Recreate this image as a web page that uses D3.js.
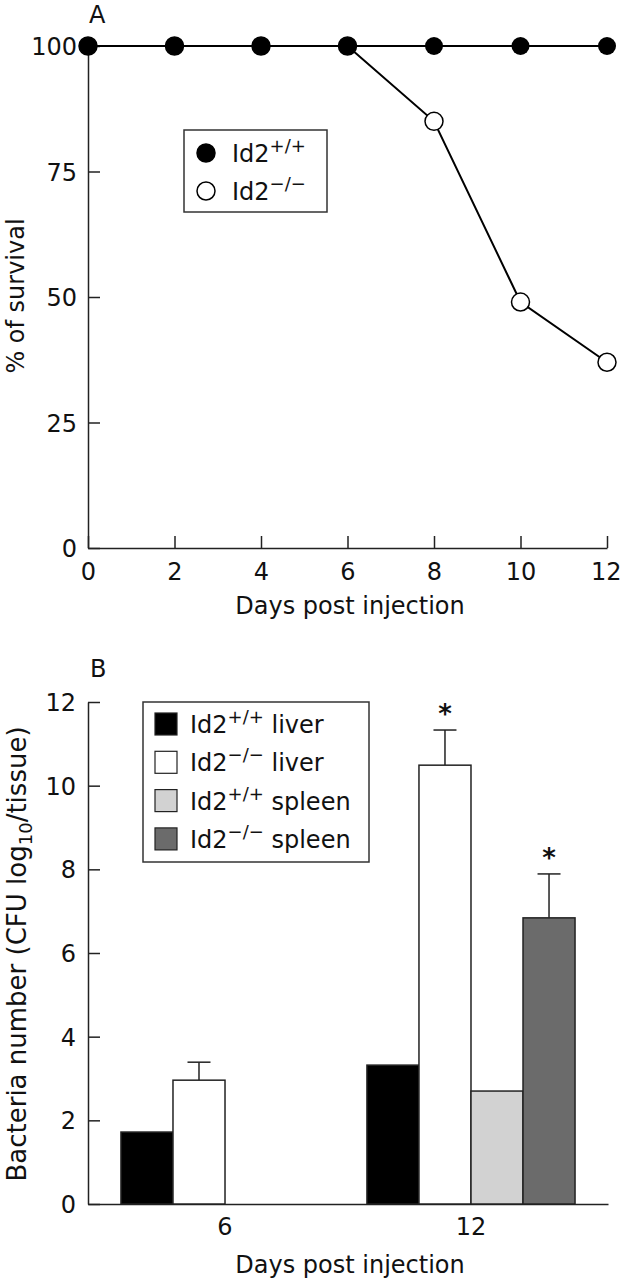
<!DOCTYPE html>
<html><head><meta charset="utf-8">
<script src="https://cdn.jsdelivr.net/npm/d3@7"></script>
<style>
body{margin:0;background:#fff;}
svg{display:block;}
text{font-family:"DejaVu Sans",sans-serif;fill:#111;}
</style></head>
<body>
<script>
// ---------- Data ----------
const days = [0, 2, 4, 6, 8, 10, 12];
const survivalWT = [100, 100, 100, 100, 100, 100, 100];   // Id2+/+
const survivalKO = [100, 100, 100, 100, 85, 49, 37];      // Id2-/-
const survivalTicksY = [0, 25, 50, 75, 100];
const survivalTicksX = [0, 2, 4, 6, 8, 10, 12];

const groups = ["6", "12"];
const seriesNames = ["Id2+/+ liver", "Id2-/- liver", "Id2+/+ spleen", "Id2-/- spleen"];
const wtLiver  = [1.72, 3.32];
const koLiver  = [2.96, 10.49];
const wtSpleen = [null, 2.70];
const koSpleen = [null, 6.84];
const koLiverErr  = [0.43, 0.84];
const koSpleenErr = [null, 1.05];
const significant = [[false, false, false, false], [false, true, false, true]];
const bacteriaTicksY = [0, 2, 4, 6, 8, 10, 12];

const W = 620, H = 1280;
const svg = d3.select("body").append("svg").attr("width", W).attr("height", H);
const axisColor = "#222";
const FS = 24;

// ---------- Panel A ----------
const xA = d3.scaleLinear().domain([0, 12]).range([88, 607]);
const yA = d3.scaleLinear().domain([0, 100]).range([548, 46]);

const gA = svg.append("g");
const axA_x = gA.append("g").attr("transform", `translate(0,${yA(0)})`)
  .call(d3.axisBottom(xA).tickValues(survivalTicksX).tickSize(-12).tickSizeOuter(0).tickPadding(15));
const axA_y = gA.append("g").attr("transform", `translate(${xA(0)},0)`)
  .call(d3.axisLeft(yA).tickValues(survivalTicksY).tickSize(-12).tickSizeOuter(0).tickPadding(11));
[axA_x, axA_y].forEach(a => {
  a.selectAll("path,line").attr("stroke", axisColor).attr("stroke-width", 1.5);
  a.selectAll("text").attr("font-size", FS).attr("fill", "#111").attr("font-family", null);
});
axA_y.selectAll("text").attr("dy", "0.36em");
// keep the last x label inside the picture
axA_x.selectAll(".tick").filter(d => d === 12).select("text").attr("text-anchor", "end").attr("dx", 14);

const lineA = d3.line().x((d, i) => xA(days[i])).y(d => yA(d));
gA.append("path").datum(survivalKO).attr("d", lineA).attr("fill", "none").attr("stroke", "#000").attr("stroke-width", 2);
gA.append("path").datum(survivalWT).attr("d", lineA).attr("fill", "none").attr("stroke", "#000").attr("stroke-width", 2);
gA.selectAll("circle.ko").data(survivalKO).join("circle").attr("class", "ko")
  .attr("cx", (d, i) => xA(days[i])).attr("cy", d => yA(d)).attr("r", 9)
  .attr("fill", "#fff").attr("stroke", "#000").attr("stroke-width", 1.5);
gA.selectAll("circle.wt").data(survivalWT).join("circle").attr("class", "wt")
  .attr("cx", (d, i) => xA(days[i])).attr("cy", d => yA(d)).attr("r", 9)
  .attr("fill", "#000");

gA.append("text").attr("x", 89).attr("y", 23).attr("font-size", FS).text("A");
gA.append("text").attr("x", 350).attr("y", 614).attr("text-anchor", "middle").attr("font-size", FS).text("Days post injection");
gA.append("text").attr("transform", `translate(24,296) rotate(-90)`).attr("text-anchor", "middle").attr("font-size", FS).text("% of survival");

// legend A
const legA = gA.append("g");
legA.append("rect").attr("x", 184).attr("y", 130).attr("width", 143).attr("height", 82)
  .attr("fill", "#fff").attr("stroke", "#333").attr("stroke-width", 1.5);
const legAItems = [{sup: "+/+", fill: "#000"}, {sup: "−/−", fill: "#fff"}];
legAItems.forEach((it, i) => {
  const cy = 153 + i * 38;
  legA.append("circle").attr("cx", 206).attr("cy", cy).attr("r", 9)
    .attr("fill", it.fill).attr("stroke", "#000").attr("stroke-width", 1.5);
  const t = legA.append("text").attr("x", 232).attr("y", cy + 9).attr("font-size", FS);
  t.append("tspan").text("Id2");
  t.append("tspan").attr("font-size", 18).attr("dy", -10).text(it.sup);
});

// ---------- Panel B ----------
const yB = d3.scaleLinear().domain([0, 12]).range([1204, 702]);
const xB = d3.scaleBand().domain(groups).range([88, 608]).paddingInner(0.154).paddingOuter(0.134);
const xSub = d3.scaleBand().domain(seriesNames).range([0, xB.bandwidth()]);
const fills = ["#000", "#fff", "#d2d2d2", "#6b6b6b"];
const values = [wtLiver, koLiver, wtSpleen, koSpleen];
const errs = [null, koLiverErr, null, koSpleenErr];

const gB = svg.append("g");
const axB_x = gB.append("g").attr("transform", `translate(0,${yB(0)})`)
  .call(d3.axisBottom(xB).tickSize(0).tickSizeOuter(0).tickPadding(14));
const axB_y = gB.append("g").attr("transform", `translate(88,0)`)
  .call(d3.axisLeft(yB).tickValues(bacteriaTicksY).tickSize(-12).tickSizeOuter(0).tickPadding(12));
[axB_x, axB_y].forEach(a => {
  a.selectAll("path,line").attr("stroke", axisColor).attr("stroke-width", 1.5);
  a.selectAll("text").attr("font-size", FS).attr("fill", "#111").attr("font-family", null);
});
axB_y.selectAll("text").attr("dy", "0.36em");

seriesNames.forEach((s, si) => {
  groups.forEach((g, gi) => {
    const v = values[si][gi];
    if (v == null) return;
    const x0 = xB(g) + xSub(s);
    const bw = xSub.bandwidth();
    const e = errs[si] ? errs[si][gi] : null;
    if (e != null) {
      const cx = x0 + bw / 2;
      gB.append("line").attr("x1", cx).attr("x2", cx).attr("y1", yB(v)).attr("y2", yB(v + e))
        .attr("stroke", "#222").attr("stroke-width", 1.5);
      gB.append("line").attr("x1", cx - 11.5).attr("x2", cx + 11.5).attr("y1", yB(v + e)).attr("y2", yB(v + e))
        .attr("stroke", "#222").attr("stroke-width", 1.5);
      if (significant[gi][si]) {
        gB.append("text").attr("x", cx).attr("y", yB(v + e) - 7).attr("text-anchor", "middle")
          .attr("font-size", 26).attr("font-weight", "bold").text("*");
      }
    }
    gB.append("rect").attr("x", x0).attr("y", yB(v)).attr("width", bw).attr("height", yB(0) - yB(v))
      .attr("fill", fills[si]).attr("stroke", "#222").attr("stroke-width", 1.5);
  });
});

gB.append("text").attr("x", 90).attr("y", 677).attr("font-size", FS).text("B");
gB.append("text").attr("x", 350).attr("y", 1273).attr("text-anchor", "middle").attr("font-size", FS).text("Days post injection");
const yt = gB.append("text").attr("transform", `translate(26,954) rotate(-90)`).attr("text-anchor", "middle").attr("font-size", 26);
yt.append("tspan").text("Bacteria number (CFU log");
yt.append("tspan").attr("font-size", 18).attr("dy", 6).text("10");
yt.append("tspan").attr("dy", -6).text("/tissue)");

// legend B
const legB = gB.append("g");
legB.append("rect").attr("x", 143).attr("y", 702).attr("width", 226).attr("height", 160)
  .attr("fill", "#fff").attr("stroke", "#333").attr("stroke-width", 1.5);
const legBItems = [
  {sup: "+/+", rest: " liver"}, {sup: "−/−", rest: " liver"},
  {sup: "+/+", rest: " spleen"}, {sup: "−/−", rest: " spleen"}];
legBItems.forEach((it, i) => {
  const cy = 724 + i * 38.3;
  legB.append("rect").attr("x", 155).attr("y", cy - 11).attr("width", 22).attr("height", 22)
    .attr("fill", fills[i]).attr("stroke", "#222").attr("stroke-width", 1.2);
  const t = legB.append("text").attr("x", 190).attr("y", cy + 9).attr("font-size", FS);
  t.append("tspan").text("Id2");
  t.append("tspan").attr("font-size", 18).attr("dy", -10).text(it.sup);
  t.append("tspan").attr("dy", 10).text(it.rest);
});
</script>
</body></html>
